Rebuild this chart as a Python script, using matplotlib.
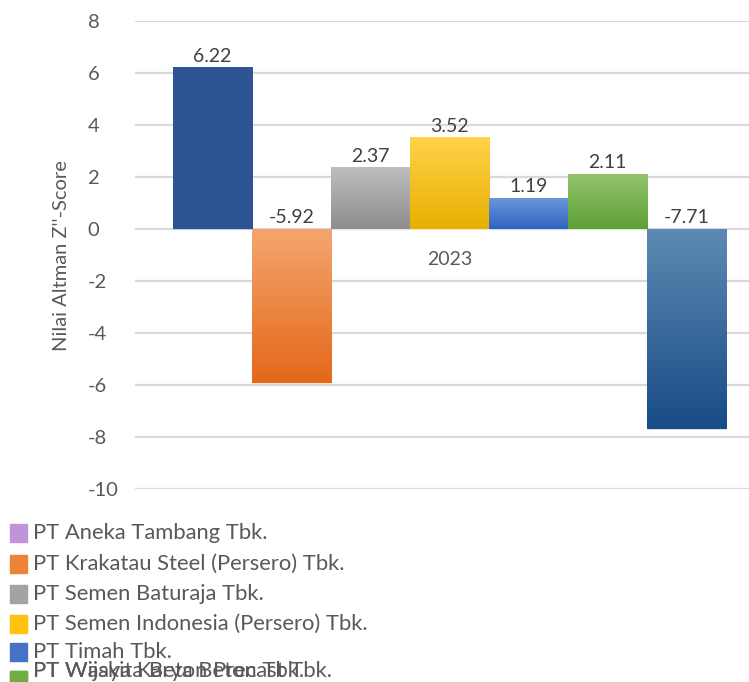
import numpy as np
import matplotlib.pyplot as plt
from matplotlib.colors import to_rgb
from matplotlib.patches import Rectangle

plt.rcParams['font.family'] = ['Lato', 'DejaVu Sans']
plt.rcParams['axes.unicode_minus'] = False

# data
companies = ["PT Aneka Tambang Tbk.",
             "PT Krakatau Steel (Persero) Tbk.",
             "PT Semen Baturaja Tbk.",
             "PT Semen Indonesia (Persero) Tbk.",
             "PT Timah Tbk.",
             "PT Waskita Beton Precast Tbk.",
             "PT Wijaya Karya Beton Tbk."]
scores = [6.22, -5.92, 2.37, 3.52, 1.19, 2.11, -7.71]
year_label = "2023"

# gradient colours (top, bottom) for each bar
bar_top = ["#2F5597", "#F4A56E", "#BEBEBE", "#FFD24A", "#6A96DA", "#93C36C", "#5D8AB3"]
bar_bottom = ["#2D5393", "#E4681A", "#8E8E8E", "#E8B000", "#2F63C2", "#5DA236", "#184C85"]
legend_colors = ["#BF94DB", "#EE8236", "#A3A3A3", "#FFC20E", "#4472C4", "#70AD47", "#70AD47"]

W, H = 749, 682
fig = plt.figure(figsize=(W / 100, H / 100), dpi=100)
ax = fig.add_axes([135 / W, (H - 489) / H, (W - 135) / W + 0.02, 468 / H])

x = np.arange(len(scores)) - 3
bars = ax.bar(x, scores, width=1.0, color=bar_top, edgecolor=(1, 1, 1, 0.6),
              linewidth=0.6, zorder=3)

# vertical gradient inside every bar
for b, c_top, c_bot in zip(bars, bar_top, bar_bottom):
    x0, w = b.get_x(), b.get_width()
    y0, h = b.get_y(), b.get_height()
    lo, hi = min(y0, y0 + h), max(y0, y0 + h)
    t = np.linspace(0, 1, 64)[:, None, None]
    grad = np.array(to_rgb(c_bot)) * (1 - t) + np.array(to_rgb(c_top)) * t
    im = ax.imshow(grad, extent=(x0, x0 + w, lo, hi), origin='lower',
                   aspect='auto', zorder=3.5, interpolation='bilinear')
    im.set_clip_path(b)

# value labels
for b, v in zip(bars, scores):
    ytop = max(v, 0)
    ax.annotate(f"{v:.2f}", (b.get_x() + b.get_width() / 2, ytop),
                xytext=(0, 2), textcoords='offset points', ha='center',
                va='bottom', fontsize=14, color='#404040', zorder=5)

ax.annotate(year_label, (0, 0), xytext=(0, -22), textcoords='offset points',
            ha='center', va='center', fontsize=14, color='#595959')

ax.set_xlim(-3.98, 3.98)
ax.set_ylim(-10, 8)
ax.set_yticks(np.arange(-10, 9, 2))
ax.set_xticks([])
ax.grid(axis='y', color='#D9D9D9', linewidth=1.6, zorder=0)
ax.set_axisbelow(True)
for s in ax.spines.values():
    s.set_visible(False)
ax.tick_params(axis='y', length=0, pad=34, labelsize=14.5, labelcolor='#595959')
for lab in ax.get_yticklabels():
    lab.set_horizontalalignment('left')

fig.text(62 / W, 1 - 256 / H, "Nilai Altman Z''-Score", rotation=90,
         ha='center', va='center', fontsize=14.5, color='#595959')

# legend drawn by hand (last two entries overlap as in the source)
rows_y = [533, 564, 594, 624, 652, 671, 671]
for name, col, yy in zip(companies, legend_colors, rows_y):
    my = yy + 9 if yy == 671 else yy
    fig.add_artist(Rectangle((10 / W, 1 - (my + 9) / H), 17 / W, 18 / H,
                             transform=fig.transFigure, color=col))
    fig.text(33 / W, 1 - yy / H, name, ha='left', va='center',
             fontsize=15.8, color='#595959')

fig.savefig('out.png', dpi=100)
